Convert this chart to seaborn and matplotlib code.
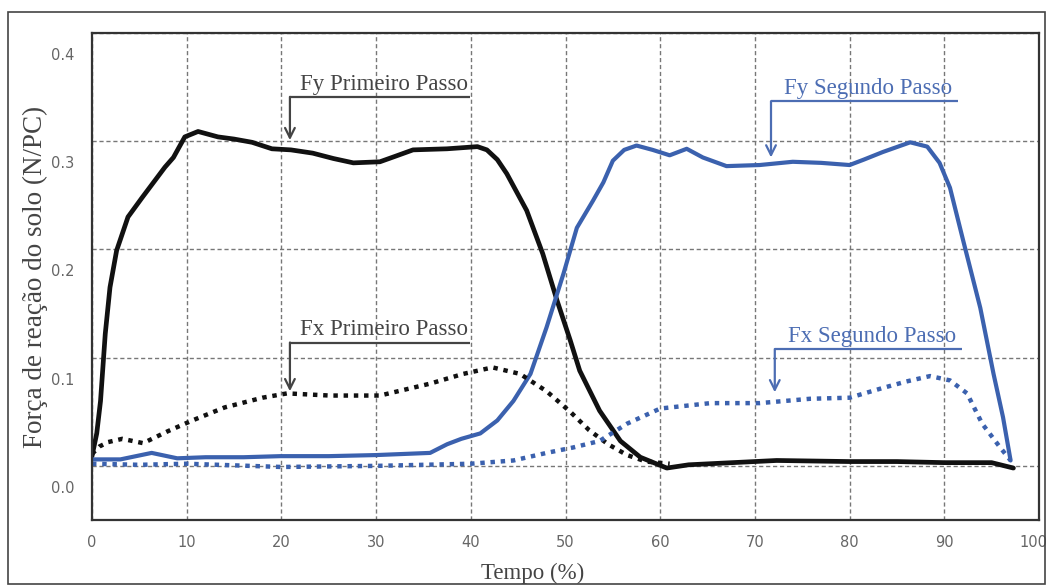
import numpy as np
import pandas as pd
import seaborn as sns
import matplotlib
matplotlib.use("Agg")
import matplotlib.pyplot as plt
from matplotlib.patches import Rectangle
from matplotlib.transforms import ScaledTranslation

# Fy primeiro passo (black solid)
fy1_t = [0, 0.5, 0.9, 1.4, 1.9, 2.6, 3.8, 5.3, 6.5, 7.7, 8.6, 9.8, 11.2, 13.3, 15, 16.9,
         19, 21, 23.3, 25.5, 27.6, 30.4, 32, 33.9, 37.5, 40.7, 41.7, 42.8, 43.8, 45.9,
         47.6, 49.1, 50.5, 51.5, 53.6, 55.8, 57.9, 60.7, 63, 65.3, 72.3, 80, 85, 90, 95, 97.3]
fy1_v = [0.009, 0.03, 0.06, 0.122, 0.165, 0.199, 0.23, 0.248, 0.262, 0.276, 0.285, 0.304,
         0.309, 0.304, 0.302, 0.299, 0.293, 0.292, 0.289, 0.284, 0.280, 0.281, 0.286, 0.292,
         0.293, 0.295, 0.292, 0.283, 0.270, 0.236, 0.196, 0.153, 0.116, 0.088, 0.051, 0.023,
         0.008, -0.002, 0.001, 0.002, 0.005, 0.004, 0.004, 0.003, 0.003, -0.002]

# Fy segundo passo (blue solid)
fy2_t = [0, 3, 6.3, 9, 12, 16, 19.9, 25, 30, 35.7, 37.5, 39, 41, 42.8, 44.5, 46.3, 48, 49.8,
         51.2, 52.9, 54, 55, 56.2, 57.5, 59.2, 61, 62.8, 64.5, 67, 70.5, 74, 77, 80, 81.5,
         83.5, 86.4, 88.2, 89.5, 90.6, 92, 93.8, 95.2, 96.2, 97]
fy2_v = [0.006, 0.006, 0.012, 0.007, 0.008, 0.008, 0.009, 0.009, 0.010, 0.012, 0.020, 0.025,
         0.030, 0.042, 0.060, 0.085, 0.128, 0.178, 0.220, 0.245, 0.262, 0.282, 0.292, 0.296,
         0.292, 0.287, 0.293, 0.285, 0.277, 0.278, 0.281, 0.280, 0.278, 0.283, 0.290, 0.299,
         0.295, 0.280, 0.257, 0.208, 0.146, 0.085, 0.045, 0.005]

# Fx primeiro passo (black dotted)
fx1_t = [0, 0.8, 1.7, 3.2, 5.4, 8, 10.6, 14, 18, 20.6, 25.1, 30.4, 35.7, 39.2, 42.3, 45.2,
         48, 50.5, 52.5, 54.5, 56.5, 58.5, 61]
fx1_v = [0.011, 0.018, 0.022, 0.025, 0.021, 0.032, 0.042, 0.054, 0.063, 0.067, 0.065, 0.065,
         0.076, 0.085, 0.091, 0.085, 0.069, 0.050, 0.033, 0.020, 0.010, 0.004, 0.002]

# Fx segundo passo (blue dotted)
fx2_t = [0, 5, 10, 20, 30, 40, 44.5, 48, 50.8, 53.6, 56.5, 60, 65.3, 70.5, 75.8, 80, 83.5,
         86, 88.5, 90.6, 92.4, 94, 95.9, 97]
fx2_v = [0.002, 0.001, 0.002, -0.001, 0.000, 0.002, 0.005, 0.012, 0.017, 0.023, 0.039, 0.053,
         0.058, 0.058, 0.062, 0.063, 0.072, 0.078, 0.083, 0.079, 0.067, 0.039, 0.017, 0.005]

# callouts: label, line start x, line end x, line y, arrow tip y
labels = ["Fy Primeiro Passo", "Fy Segundo Passo", "Fx Primeiro Passo", "Fx Segundo Passo"]
lab_x0 = [20.9, 71.7, 20.9, 72.1]
lab_x1 = [39.9, 91.4, 39.9, 91.9]
lab_line_y = [0.341, 0.337, 0.114, 0.108]
lab_tip_y = [0.301, 0.285, 0.069, 0.068]

black = "#111111"
blue = "#3b61ae"

sns.set_style("white")
plt.rcParams["font.family"] = ["DejaVu Sans"]

fig = plt.figure(figsize=(10.5, 5.86), dpi=100)
ax = fig.add_axes([92 / 1050, 1 - 520 / 586, (1039 - 92) / 1050, (520 - 33) / 586])

sns.lineplot(x=fy1_t, y=fy1_v, ax=ax, color=black, lw=3.4, sort=False, estimator=None)
sns.lineplot(x=fy2_t, y=fy2_v, ax=ax, color=blue, lw=3.0, sort=False, estimator=None)
l3 = sns.lineplot(x=fx1_t, y=fx1_v, ax=ax, color=black, lw=3.2, sort=False, estimator=None).lines[-1]
l4 = sns.lineplot(x=fx2_t, y=fx2_v, ax=ax, color=blue, lw=3.2, sort=False, estimator=None).lines[-1]
for ln in (l3, l4):
    ln.set_linestyle((0, (1, 1.3)))
    ln.set_dash_capstyle("butt")

ax.set_xlim(0, 100)
ax.set_ylim(-0.05, 0.4)
ax.set_xticks(np.arange(0, 101, 10))
ax.set_xticks(np.arange(5, 100, 10), minor=True)
ax.set_yticks([0.0, 0.1, 0.2, 0.3, 0.4])
ax.set_yticklabels(["0.0", "0.1", "0.2", "0.3", "0.4"])
ax.set_yticks(np.arange(-0.05, 0.4, 0.1), minor=True)

ax.grid(True, which="major", color="#777777", lw=1.0, ls=(0, (3, 2)))
ax.tick_params(axis="both", which="major", direction="inout", length=9, width=1.2,
               colors="#333333", labelcolor="#666666", labelsize=10.5)
ax.tick_params(axis="both", which="minor", direction="in", length=5, width=1.2, colors="#333333")
ax.tick_params(axis="y", pad=8)
ax.tick_params(axis="x", pad=6)

# y tick labels sit a little below their gridlines in the original
off = ScaledTranslation(0, -0.21, fig.dpi_scale_trans)
for lab in ax.get_yticklabels():
    lab.set_transform(lab.get_transform() + off)
# keep "100" inside the figure
last = ax.get_xticklabels()[-1]
last.set_transform(last.get_transform() + ScaledTranslation(-0.06, 0, fig.dpi_scale_trans))

for side in ["left", "right", "top", "bottom"]:
    ax.spines[side].set_color("#333333")
    ax.spines[side].set_linewidth(1.6)

ax.set_xlabel("Tempo (%)", family="Liberation Serif", fontsize=16.5, color="#444444")
ax.set_ylabel("Força de reação do solo (N/PC)", family="Liberation Serif", fontsize=19.5,
              color="#444444")
ax.xaxis.set_label_coords(0.465, -0.088)
ax.yaxis.set_label_coords(-0.046, 0.50)

colors = ["#444444", "#4c6db3", "#444444", "#4c6db3"]
for name, x0, x1, ly, ty, c in zip(labels, lab_x0, lab_x1, lab_line_y, lab_tip_y, colors):
    ax.plot([x0, x1], [ly, ly], color=c, lw=1.6, solid_capstyle="butt")
    ax.annotate("", xy=(x0, ty), xytext=(x0, ly),
                arrowprops=dict(arrowstyle="->,head_length=0.7,head_width=0.35", color=c, lw=1.6,
                                shrinkA=0, shrinkB=0))
    ax.text((x0 + x1) / 2 + 0.4, ly + 0.002, name, ha="center", va="bottom",
            family="Liberation Serif", fontsize=16.5, color=c)

fig.patches.append(Rectangle((8 / 1050, 2 / 586), (1045 - 8) / 1050, (574 - 2) / 586,
                             transform=fig.transFigure, fill=False, edgecolor="#444444", lw=1.2))

fig.savefig("out.png", dpi=100)
